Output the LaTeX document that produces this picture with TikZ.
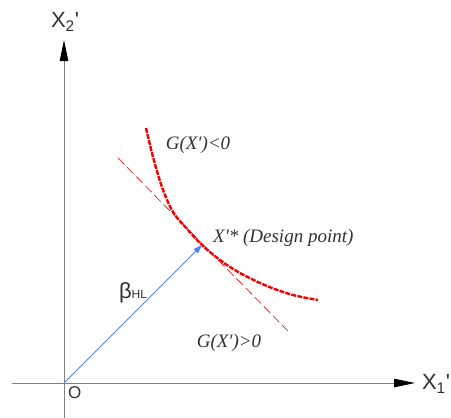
\documentclass[tikz,border=0pt]{standalone}
\usepackage{fontspec}
\setmainfont{Liberation Serif}
\newfontfamily\axisfont{Liberation Sans}
\usetikzlibrary{arrows.meta}
\definecolor{axisgray}{RGB}{128,128,128}
\definecolor{txtgray}{RGB}{50,50,50}
\definecolor{vecblue}{RGB}{80,130,255}
\definecolor{curvered}{RGB}{240,0,0}
\newcommand{\prm}{\textquotesingle}
\tikzset{
  axisline/.style={draw=axisgray, line width=0.9pt, -{Triangle[length=21pt,width=8.5pt,color=black,fill=black]}},
  axislabel/.style={font=\axisfont\fontsize{22}{22}\selectfont, text=txtgray, inner sep=0pt},
  regionlabel/.style={font=\itshape\fontsize{19}{20}\selectfont, text=txtgray, inner sep=0pt},
  limitcurve/.style={draw=curvered, line width=2.4pt, dash pattern=on 5pt off 1.2pt},
  tangentline/.style={draw=curvered, line width=0.6pt, dash pattern=on 9pt off 4pt},
  vector/.style={draw=vecblue, line width=0.8pt, -{Triangle[length=9pt,width=6pt]}}
}
\begin{document}
\begin{tikzpicture}[x=1pt,y=-1pt]
\useasboundingbox (0,0) rectangle (451,418);
\coordinate (O) at (64,383);
\coordinate (ybot) at (64,418);
\coordinate (ytop) at (64,40);
\coordinate (xleft) at (12,383);
\coordinate (xright) at (415,383);
\coordinate (dp) at (202,245);
\coordinate (t1) at (118,158);
\coordinate (t2) at (288,331);
% axes
\draw[axisline] (ybot) -- (ytop);
\draw[axisline] (xleft) -- (xright);
\node[axislabel] (lx2) at (65,22) {X\textsubscript{2}\prm};
\node[axislabel] (lx1) at (436,384) {X\textsubscript{1}\prm};
\node[axislabel, font=\axisfont\fontsize{17}{17}\selectfont, anchor=north west] (lo) at (68,386) {O};
% tangent
\draw[tangentline] (t1) -- (t2);
% limit state curve
\draw[limitcurve] plot[smooth, tension=0.55] coordinates {(146,128) (153,157) (162,187) (173,212) (188,230) (202,245) (220,260) (240,273) (267,286) (293,295) (318,300)};
% vector
\draw[vector] (O) -- (dp);
% labels
\node[inner sep=0pt, text=txtgray] (beta) at (133,293) {{\axisfont\fontsize{22}{22}\selectfont β}{\axisfont\fontsize{12}{12}\selectfont HL}};
\node[regionlabel] (gneg) at (198,145) {G(X\prm)<0};
\node[regionlabel, anchor=west] (dplabel) at (213,238) {X\prm* (Design point)};
\node[regionlabel] (gpos) at (229,343) {G(X\prm)>0};
\end{tikzpicture}
\end{document}
